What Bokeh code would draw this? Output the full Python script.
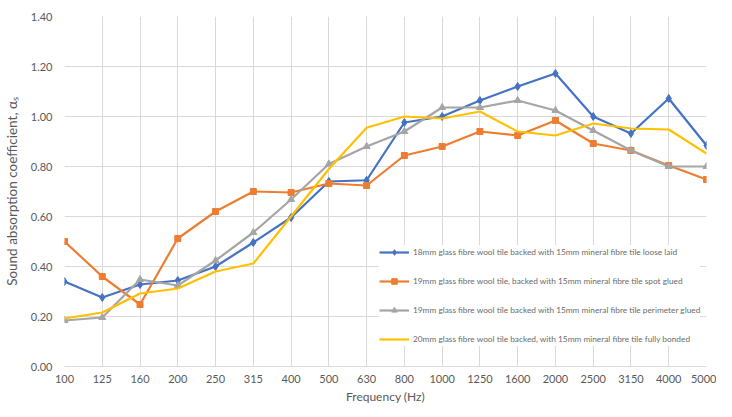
from bokeh.plotting import figure
from bokeh.models import Range1d, FixedTicker, Legend, LegendItem
from bokeh.embed import file_html
from bokeh.resources import INLINE

freqs = ["100", "125", "160", "200", "250", "315", "400", "500", "630", "800",
         "1000", "1250", "1600", "2000", "2500", "3150", "4000", "5000"]
loose_laid = [0.34, 0.276, 0.328, 0.344, 0.40, 0.496, 0.596, 0.74, 0.745, 0.976,
              1.00, 1.064, 1.12, 1.172, 1.00, 0.932, 1.072, 0.884]
spot_glued = [0.50, 0.36, 0.248, 0.512, 0.62, 0.70, 0.696, 0.732, 0.724, 0.844,
              0.88, 0.94, 0.924, 0.984, 0.892, 0.864, 0.804, 0.748]
perimeter_glued = [0.184, 0.196, 0.348, 0.324, 0.424, 0.536, 0.668, 0.81, 0.88, 0.94,
                   1.036, 1.036, 1.064, 1.024, 0.944, 0.864, 0.80, 0.80]
fully_bonded = [0.192, 0.216, 0.292, 0.312, 0.38, 0.412, 0.60, 0.79, 0.955, 1.00,
                0.992, 1.02, 0.94, 0.924, 0.972, 0.952, 0.948, 0.852]
labels = [
    "18mm glass fibre wool tile backed with 15mm mineral fibre tile loose laid",
    "19mm glass fibre wool tile, backed with 15mm mineral fibre tile spot glued",
    "19mm glass fibre wool tile backed with 15mm mineral fibre tile perimeter glued",
    "20mm glass fibre wool tile backed, with 15mm mineral fibre tile fully bonded",
]
y_ticks = [0.0, 0.2, 0.4, 0.6, 0.8, 1.0, 1.2, 1.4]

xs = list(range(len(freqs)))
FONT = "Lato"
GREY_TXT = "#595959"

p = figure(width=716, height=406, output_backend="svg", toolbar_location=None,
           x_range=Range1d(0, len(freqs) - 1), y_range=Range1d(0, 1.4),
           min_border_left=58, min_border_right=10, min_border_top=16, min_border_bottom=40)
p.outline_line_color = None
p.background_fill_color = "white"

p.xaxis.ticker = FixedTicker(ticks=xs)
p.xaxis.major_label_overrides = {i: f for i, f in enumerate(freqs)}
p.yaxis.ticker = FixedTicker(ticks=y_ticks)
p.yaxis.major_label_overrides = {t: f"{t:.2f}" for t in y_ticks}

for ax in (p.xaxis[0], p.yaxis[0]):
    ax.major_tick_line_color = None
    ax.minor_tick_line_color = None
    ax.major_tick_out = 0
    ax.major_tick_in = 0
    ax.minor_tick_out = 0
    ax.minor_tick_in = 0
    ax.major_label_text_font = FONT
    ax.major_label_text_font_size = "11px"
    ax.major_label_text_color = GREY_TXT
    ax.axis_label_text_font = FONT
    ax.axis_label_text_font_style = "normal"
    ax.axis_label_text_color = GREY_TXT
p.yaxis.axis_line_color = None
p.xaxis.axis_line_color = "#D9D9D9"
p.xaxis.major_label_standoff = 8
p.yaxis.major_label_standoff = 12
p.xaxis.axis_label = "Frequency (Hz)"
p.xaxis.axis_label_text_font_size = "12px"
p.xaxis.axis_label_standoff = 3
p.yaxis.axis_label = "Sound absorption coefficient, \u03b1\u209b"
p.yaxis.axis_label_text_font_size = "13.5px"
p.yaxis.axis_label_standoff = 8

p.xgrid.ticker = FixedTicker(ticks=xs)
p.ygrid.ticker = FixedTicker(ticks=y_ticks)
p.grid.grid_line_color = "#D9D9D9"
p.grid.grid_line_width = 1

series = [
    (loose_laid, "#4472C4", "diamond", 8),
    (spot_glued, "#ED7D31", "square", 6),
    (perimeter_glued, "#A5A5A5", "triangle", 7),
    (fully_bonded, "#FFC000", None, 0),
]
items = []
for (vals, color, marker, size), lab in zip(series, labels):
    rs = [p.line(xs, vals, line_color=color, line_width=2.2)]
    if marker:
        rs.append(p.scatter(xs, vals, marker=marker, size=size,
                            fill_color=color, line_color=color))
    items.append(LegendItem(label=lab, renderers=rs))

legend = Legend(items=items, location=(315, 20), orientation="vertical",
                background_fill_color="white", background_fill_alpha=1.0,
                border_line_color=None, label_text_font=FONT,
                label_text_font_size="8.3px", label_text_color="#6b6b6b",
                glyph_width=30, glyph_height=14, label_height=14,
                spacing=15, padding=4, margin=0, label_standoff=4)
p.add_layout(legend, "center")

open("out.html", "w").write(file_html(p, INLINE))
